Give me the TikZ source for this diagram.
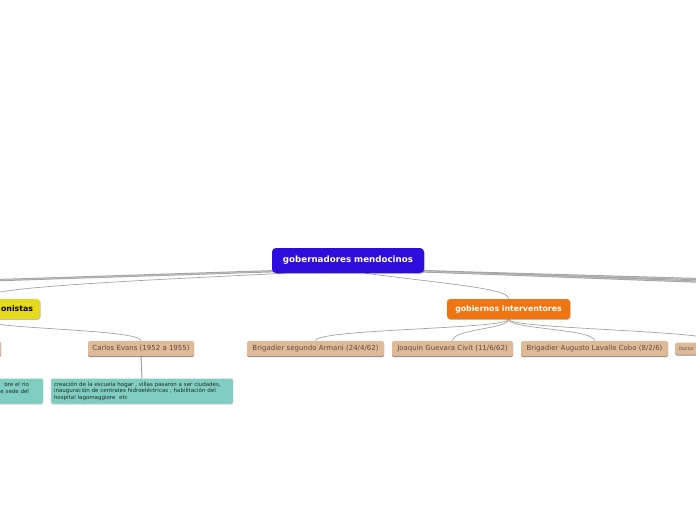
\documentclass[tikz,border=0pt]{standalone}
\usepackage{fontspec}
\setmainfont{DejaVu Sans}
\usetikzlibrary{calc, shadows, backgrounds}

\definecolor{rootblue}{HTML}{2F0CDE}
\definecolor{intorange}{HTML}{EE7511}
\definecolor{peronyellow}{HTML}{E5DA1C}
\definecolor{govtan}{HTML}{DFBA98}
\definecolor{govtext}{HTML}{5C4B40}
\definecolor{deedteal}{HTML}{7ECFC1}
\definecolor{linkgray}{HTML}{A4A4A4}

\tikzset{
  rootbox/.style={fill=rootblue, text=white, rounded corners=4pt, inner sep=0pt,
    font=\fontsize{8.7}{10}\selectfont\bfseries,
    drop shadow={shadow xshift=0.6pt, shadow yshift=-0.8pt, fill=black, opacity=0.25}},
  branch/.style={text=white, rounded corners=3pt, inner xsep=7pt, inner ysep=0pt,
    minimum height=20pt, font=\fontsize{7.8}{9}\selectfont\bfseries,
    drop shadow={shadow xshift=0.6pt, shadow yshift=-0.8pt, fill=black, opacity=0.25}},
  gov/.style={fill=govtan, text=govtext, rounded corners=1.5pt, inner xsep=2pt, inner ysep=0pt,
    minimum height=15pt, font=\fontsize{7}{8}\selectfont,
    drop shadow={shadow xshift=0pt, shadow yshift=-1pt, fill=black, opacity=0.45}},
  deed/.style={fill=deedteal, text=black!85, rounded corners=2pt, inner xsep=3pt, inner ysep=0pt,
    minimum height=25pt, font=\fontsize{5.5}{6.6}\selectfont,
    drop shadow={shadow xshift=0pt, shadow yshift=-1pt, fill=black, opacity=0.2}},
  mainlink/.style={draw=linkgray, line width=2.3pt, postaction={draw=gray!40, line width=0.4pt}},
  link/.style={draw=linkgray, line width=0.7pt},
}

\begin{document}
\begin{tikzpicture}[x=1pt, y=1pt]
  \useasboundingbox (0,0) rectangle (696,-520);
  \clip (0,0) rectangle (696,-520);

  % centre
  \node[rootbox, minimum width=152pt, minimum height=25pt] (root) at (348,-260.5) {gobernadores mendocinos};

  % first level
  \node[branch, fill=peronyellow, text=black, text width=106pt, align=right] (peron) at (-20,-309) {onistas};
  \node[branch, fill=intorange, minimum width=123pt] (interv) at (508.5,-309) {gobiernos interventores};

  % governors
  \node[gov, minimum width=100pt] (govL) at (-49,-348.5) {};
  \node[gov, minimum width=106pt] (evans) at (141,-348.5) {Carlos Evans (1952 a 1955)};
  \node[gov, minimum width=137pt] (armani) at (315.5,-348.5) {Brigadier segundo Armani (24/4/62)};
  \node[gov, minimum width=121pt] (guevara) at (452.5,-348.5) {Joaquin Guevara Civit (11/6/62)};
  \node[gov, minimum width=147pt] (lavalle) at (594.5,-348.5) {Brigadier Augusto Lavalle Cobo (8/2/6)};
  \node[gov, minimum height=12pt, inner xsep=4pt, text width=82pt, align=left,
        font=\fontsize{4.5}{5}\selectfont] (doctor) at (720,-348.5) {Doctor};

  % works
  \node[deed, inner xsep=14pt, text width=150pt, align=right] (deedL) at (-46,-391)
    {bre el rio\\e sede del\\\mbox{}};
  \node[deed, text width=176pt, align=left] (creacion) at (142,-391)
    {creación de la escuela hogar , villas pasaron a ser ciudades,\\
     inauguración de centrales hidroeléctricas , habilitación del\\
     hospital lagomaggiore\ \ etc};

  \coordinate (farW) at (-100,-283.3);
  \coordinate (farE1) at (800,-282);
  \coordinate (farE2) at (800,-285.5);

  \begin{scope}[on background layer]
    % main branches
    \draw[mainlink] ($(root.south west)+(2,2)$) -- (farW);
    \draw[mainlink] ($(root.south east)+(-2,2)$) -- (farE1);
    \draw[mainlink] ($(root.south east)+(-2,2)$) -- (farE2);

    \draw[link] ($(root.south)+(-63,0)$) .. controls ($(root.south)+(-200,-7)$) and ($(peron.north)+(0,12)$) .. (peron.north);
    \draw[link] ($(root.south)+(17,0)$) .. controls ($(root.south)+(110,-12)$) and ($(interv.north)+(0,10)$) .. (interv.north);

    \draw[link] (peron.south) .. controls ($(peron.south)+(0,-10)$) and ($(govL.north)+(0,12)$) .. (govL.north);
    \draw[link] (peron.south) .. controls ($(peron.south)+(0,-10)$) and ($(evans.north)+(0,12)$) .. (evans.north);

    \draw[link] (interv.south) .. controls ($(interv.south)+(0,-10)$) and ($(armani.north)+(0,12)$) .. (armani.north);
    \draw[link] (interv.south) .. controls ($(interv.south)+(0,-10)$) and ($(guevara.north)+(0,12)$) .. (guevara.north);
    \draw[link] (interv.south) .. controls ($(interv.south)+(0,-10)$) and ($(lavalle.north)+(0,12)$) .. (lavalle.north);
    \draw[link] (interv.south) .. controls ($(interv.south)+(0,-10)$) and ($(doctor.north)+(0,12)$) .. (doctor.north);

    \draw[link, line width=1pt] (evans.south) -- (creacion.north);
  \end{scope}
\end{tikzpicture}
\end{document}
